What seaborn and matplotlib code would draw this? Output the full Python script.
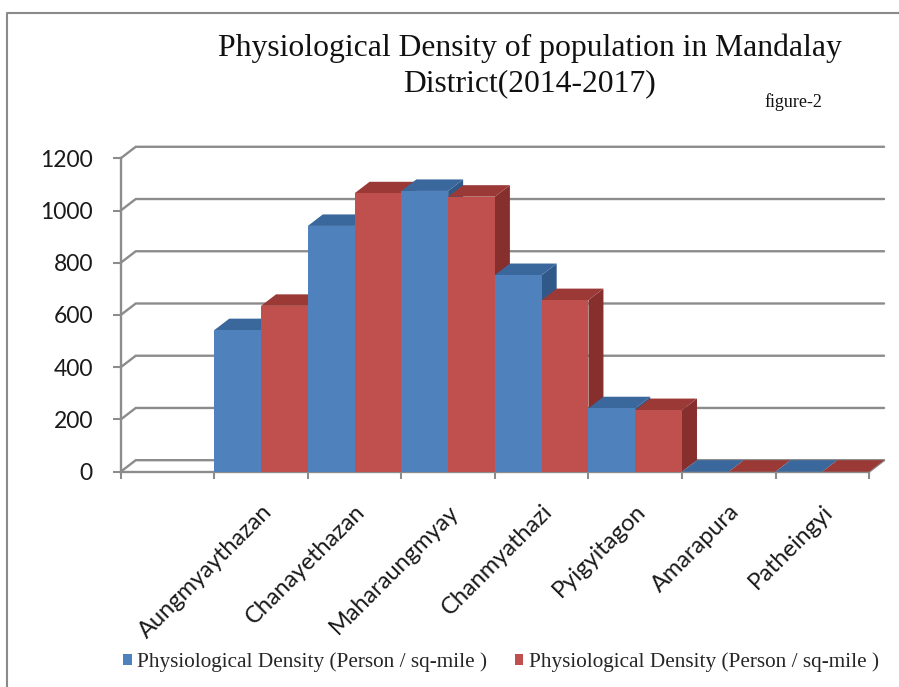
import numpy as np
import pandas as pd
import matplotlib
matplotlib.use("Agg")
import matplotlib.pyplot as plt
import matplotlib.colors as mcolors
from matplotlib.patches import Polygon, Rectangle
from matplotlib.lines import Line2D
import seaborn as sns

# Townships of Mandalay District and the two physiological density series
towns = ["Aungmyaythazan", "Chanayethazan", "Maharaungmyay", "Chanmyathazi",
         "Pyigyitagon", "Amarapura", "Patheingyi"]
density_first = [542, 941, 1075, 753, 243, 0, 0]
density_second = [635, 1066, 1053, 657, 236, 0, 0]
series_names = ["first", "second"]
legend_label = "Physiological Density (Person / sq-mile )"
y_ticks = [0, 200, 400, 600, 800, 1000, 1200]

front_colors = ["#4F81BD", "#C0504D"]
top_colors = ["#3A679C", "#9A3936"]
side_colors = ["#30598A", "#862F2D"]
grid_grey = "#8C8C8C"

df = pd.DataFrame({
    "township": towns * 2,
    "density": density_first + density_second,
    "series": [series_names[0]] * len(towns) + [series_names[1]] * len(towns),
})

sns.set_theme(style="white")
plt.rcParams["font.family"] = ["Lato", "DejaVu Sans"]

fig = plt.figure(figsize=(8.99, 6.87), dpi=100)
ax = fig.add_axes([0.1343, 0.3134, 0.8324, 0.4562])

sns.barplot(data=df, x="township", y="density", hue="series", order=towns,
            hue_order=series_names, palette=front_colors, saturation=1,
            width=1.0, errorbar=None, legend=False, ax=ax, linewidth=0)

x_lo, x_hi = -1.5, len(towns) - 0.5
ax.set_xlim(x_lo, x_hi)
ax.set_ylim(y_ticks[0], y_ticks[-1])
ax.set_xlabel("")
ax.set_ylabel("")

# depth of the pseudo-3D box, expressed in data units
px_x = ax.bbox.width / (x_hi - x_lo)
px_y = ax.bbox.height / (y_ticks[-1] - y_ticks[0])
DX = 15 / px_x
DY = 11.5 / px_y

# back wall / side wall gridlines
for v in y_ticks:
    ax.plot([x_lo, x_lo + DX, x_hi + DX], [v, v + DY, v + DY], color=grid_grey,
            lw=1.7, zorder=1, clip_on=False, solid_joinstyle="miter")
ax.plot([x_hi, x_hi + DX], [0, DY], color=grid_grey, lw=1.7, zorder=1, clip_on=False)

# shaded top and side faces, drawn left to right so nearer faces overlap
front_hex = [mcolors.to_hex(c) for c in front_colors]
bars = sorted([p for p in ax.patches if isinstance(p, Rectangle)], key=lambda p: p.get_x())
for k, p in enumerate(bars):
    idx = front_hex.index(mcolors.to_hex(p.get_facecolor()))
    x0, x1, h = p.get_x(), p.get_x() + p.get_width(), p.get_height()
    z = 3 + k * 0.01
    ax.add_patch(Polygon([(x1, 0), (x1 + DX, DY), (x1 + DX, h + DY), (x1, h)],
                         closed=True, fc=side_colors[idx], ec="none", zorder=z, clip_on=False))
    ax.add_patch(Polygon([(x0, h), (x1, h), (x1 + DX, h + DY), (x0 + DX, h + DY)],
                         closed=True, fc=top_colors[idx], ec="none", zorder=z + 0.005,
                         clip_on=False))
    p.set_zorder(5)
    p.set_clip_on(False)

# axes styling
for side in ["top", "right"]:
    ax.spines[side].set_visible(False)
for side in ["left", "bottom"]:
    ax.spines[side].set_color(grid_grey)
    ax.spines[side].set_linewidth(1.7)
    ax.spines[side].set_zorder(2)

ax.set_yticks(y_ticks)
ax.set_yticklabels([str(v) for v in y_ticks])
ax.tick_params(axis="y", which="major", direction="out", length=6, width=1.5,
               color=grid_grey, labelsize=16.5, labelcolor="#1a1a1a", pad=14, left=True)

ax.set_xticks(np.arange(len(towns)))
ax.set_xticklabels(towns, rotation=45, ha="right", rotation_mode="anchor")
ax.set_xticks(np.arange(x_lo, x_hi + 0.01, 1.0), minor=True)
ax.tick_params(axis="x", which="major", length=0, labelsize=17,
               labelcolor="#1a1a1a", pad=21)
ax.tick_params(axis="x", which="minor", direction="out", length=5, width=1.5,
               color=grid_grey, bottom=True)

# title and figure tag
serif = ["Liberation Serif", "DejaVu Serif"]
fig.text(0.589, 1 - 48 / 687, "Physiological Density of population in Mandalay",
         ha="center", va="center", family=serif, size=22.8, color="#111111")
fig.text(0.589, 1 - 84 / 687, "District(2014-2017)",
         ha="center", va="center", family=serif, size=22.8, color="#111111")
fig.text(793 / 899, 1 - 102 / 687, "figure-2", ha="center", va="center",
         family=serif, size=13, color="#111111")

# legend below the chart
handles = [Rectangle((0, 0), 1, 1, fc=c, ec="none") for c in front_colors]
fig.legend(handles, [legend_label] * 2, loc="center",
           bbox_to_anchor=(0.557, 1 - 662 / 687), ncol=2, frameon=False,
           prop={"family": serif, "size": 15.3}, handlelength=0.42,
           handleheight=0.42, handletextpad=0.25, columnspacing=1.3)

# chart area border
fig.add_artist(Line2D([7 / 899, 7 / 899, 1.0], [0.0, 1 - 13 / 687, 1 - 13 / 687],
                      transform=fig.transFigure, color="#8a8a8a", lw=1.5))

fig.savefig("out.png", dpi=100)
